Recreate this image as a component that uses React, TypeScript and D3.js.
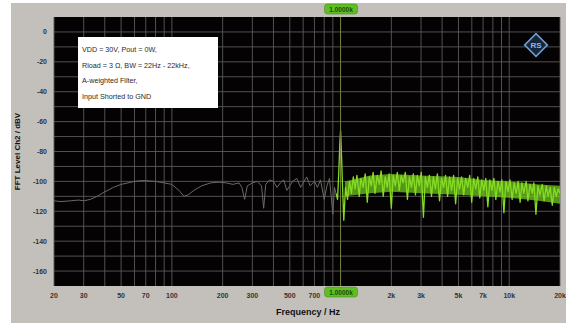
import { useEffect, useRef } from "react";
import { select, scaleLog, scaleLinear, line, area } from "d3";

////
///// layout
const WIDTH = 566;
const HEIGHT = 323;
const PLOT = { left: 54, right: 560, top: 17, bottom: 286 };

////
///// axis data
const X_TICKS = [20, 30, 50, 70, 100, 200, 300, 500, 700, 1000, 2000, 3000, 5000, 7000, 10000, 20000];
const X_TICK_LABELS = ["20", "30", "50", "70", "100", "200", "300", "500", "700", "1k", "2k", "3k", "5k", "7k", "10k", "20k"];
const X_GRID = [
  20, 30, 40, 50, 60, 70, 80, 90,
  100, 200, 300, 400, 500, 600, 700, 800, 900,
  1000, 2000, 3000, 4000, 5000, 6000, 7000, 8000, 9000,
  10000, 20000,
];
const Y_TICKS = [0, -20, -40, -60, -80, -100, -120, -140, -160];
const Y_GRID = [0, -10, -20, -30, -40, -50, -60, -70, -80, -90, -100, -110, -120, -130, -140, -150, -160];

const LEGEND_LINES = [
  "VDD = 30V, Pout = 0W,",
  "Rload = 3 Ω, BW = 22Hz - 22kHz,",
  "A-weighted Filter,",
  "Input Shorted to GND",
];

const CURSOR_FREQ = 1000;
const CURSOR_LABEL = "1.0000k";

////
///// trace data (Hz, dBV)
const GRAY_FREQ = [
  20, 22, 25, 28, 30, 33, 36, 40, 45, 50, 55, 60, 65, 70, 80, 90, 100, 110, 118, 125,
  135, 150, 170, 190, 210, 230, 250, 260, 270, 280, 300, 320, 340, 350, 360, 380, 400,
  420, 440, 460, 480, 500, 520, 550, 580, 600, 630, 660, 700, 730, 760, 800, 830, 860,
  900, 920, 940,
];
const GRAY_LEVEL = [
  -113, -113.5, -113, -112.5, -113, -112, -110, -107, -104, -102, -101, -100, -99.5, -99.5,
  -100, -101, -102, -106, -110, -109, -106, -103, -101, -100.5, -101, -102, -101, -104, -112,
  -103, -101, -100, -103, -118, -102, -99, -100, -104, -101, -99, -106, -103, -100, -98, -104,
  -101, -97, -103, -100, -104, -99, -112, -103, -98, -122, -104, -108,
];

const GREEN_FREQ = [
  940, 960, 975, 990, 1000, 1010, 1025, 1045, 1070,
  1100, 1130, 1160, 1190, 1220, 1250, 1290, 1320, 1360, 1400, 1440, 1480, 1520, 1560,
  1600, 1650, 1700, 1740, 1790, 1840, 1890, 1940, 2000, 2050, 2110, 2170, 2230, 2290,
  2350, 2420, 2490, 2560, 2630, 2700, 2780, 2850, 2930, 3010, 3100, 3180, 3270, 3360,
  3460, 3550, 3650, 3750, 3860, 3970, 4080, 4190, 4310, 4430, 4550, 4680, 4810, 4940,
  5080, 5220, 5370, 5520, 5670, 5830, 5990, 6160, 6330, 6510, 6690, 6870, 7070, 7260,
  7470, 7680, 7890, 8110, 8330, 8570, 8810, 9050, 9300, 9560, 9830, 10100, 10400, 10700,
  11000, 11300, 11600, 11900, 12200, 12600, 12900, 13300, 13700, 14000, 14400, 14800,
  15200, 15700, 16100, 16600, 17000, 17500, 18000, 18500, 19000, 19500, 20000,
];
const GREEN_LEVEL = [
  -108, -112, -95, -75, -66, -78, -100, -126, -104,
  -112, -100, -108, -97, -105, -96, -110, -98, -104, -95, -114, -97, -103, -94,
  -108, -96, -102, -93, -110, -97, -104, -95, -118, -96, -103, -94, -106, -96,
  -101, -94, -112, -97, -104, -95, -109, -96, -103, -94, -124, -97, -104, -96,
  -110, -97, -105, -95, -113, -98, -104, -96, -110, -97, -106, -96, -115, -98,
  -105, -97, -109, -98, -104, -96, -114, -98, -105, -97, -111, -99, -106, -98,
  -117, -99, -106, -98, -112, -100, -107, -99, -121, -100, -107, -99, -112, -101,
  -108, -100, -114, -101, -108, -100, -113, -102, -108, -101, -122, -103,
  -109, -102, -113, -103, -110, -104, -116, -104, -110, -105, -108,
];

// dense noise band under the green trace
const BAND_FREQ = [1060, 1500, 2000, 3000, 5000, 7000, 10000, 15000, 20000];
const BAND_TOP = [-100, -96, -95, -96, -97, -99, -100, -102, -103];
const BAND_BOTTOM = [-110, -108, -107, -108, -109, -110, -111, -113, -115];

////
/////
const App = () => {
  const ref = useRef<SVGSVGElement>(null);

  useEffect(() => {
    if (!ref.current) return;
    const svg = select(ref.current);
    svg.selectAll("*").remove();

    const x = scaleLog().domain([20, 20000]).range([PLOT.left, PLOT.right]);
    const y = scaleLinear().domain([10, -170]).range([PLOT.top, PLOT.bottom]);
    //
    // frame
    svg.append("rect").attr("x", 11).attr("y", 3).attr("width", WIDTH - 11).attr("height", HEIGHT - 3).attr("fill", "#c3c0bc");
    svg
      .append("rect")
      .attr("x", PLOT.left)
      .attr("y", PLOT.top)
      .attr("width", PLOT.right - PLOT.left)
      .attr("height", PLOT.bottom - PLOT.top)
      .attr("fill", "#050203");
    //
    // grid
    const grid = svg.append("g").attr("stroke", "#5a5a5a").attr("stroke-width", 0.9);
    grid
      .selectAll("line.v")
      .data(X_GRID)
      .join("line")
      .attr("x1", (d) => x(d))
      .attr("x2", (d) => x(d))
      .attr("y1", PLOT.top)
      .attr("y2", PLOT.bottom);
    grid
      .selectAll("line.h")
      .data(Y_GRID)
      .join("line")
      .attr("x1", PLOT.left)
      .attr("x2", PLOT.right)
      .attr("y1", (d) => y(d))
      .attr("y2", (d) => y(d));
    //
    // axis labels
    const font = "Arial, 'Liberation Sans', sans-serif";
    svg
      .append("g")
      .selectAll("text")
      .data(Y_TICKS)
      .join("text")
      .attr("x", 47)
      .attr("y", (d) => y(d) + 2.5)
      .attr("text-anchor", "end")
      .attr("font-family", font)
      .attr("font-size", 7)
      .attr("font-weight", "bold")
      .attr("fill", "#333")
      .text((d) => `${d}`);
    // the 1k label sits under the cursor readout box, as in the source
    const xLabels = X_TICKS.map((f, i) => ({ f, label: X_TICK_LABELS[i] })).filter((d) => d.f !== CURSOR_FREQ);
    svg
      .append("g")
      .selectAll("text")
      .data(xLabels)
      .join("text")
      .attr("x", (d) => x(d.f))
      .attr("y", 298)
      .attr("text-anchor", "middle")
      .attr("font-family", font)
      .attr("font-size", 7)
      .attr("font-weight", "bold")
      .attr("fill", "#333")
      .text((d) => d.label);
    svg
      .append("text")
      .attr("x", 308)
      .attr("y", 315)
      .attr("text-anchor", "middle")
      .attr("font-family", font)
      .attr("font-size", 9)
      .attr("font-weight", "bold")
      .attr("fill", "#111")
      .text("Frequency / Hz");
    svg
      .append("text")
      .attr("transform", `translate(20, ${(PLOT.top + PLOT.bottom) / 2}) rotate(-90)`)
      .attr("text-anchor", "middle")
      .attr("font-family", font)
      .attr("font-size", 8)
      .attr("font-weight", "bold")
      .attr("fill", "#111")
      .text("FFT Level Ch2 / dBV");
    //
    // traces
    const plot = svg.append("g");
    const band = area<number>()
      .x((d, i) => x(BAND_FREQ[i]))
      .y0((d, i) => y(BAND_BOTTOM[i]))
      .y1((d) => y(d));
    plot.append("path").attr("d", band(BAND_TOP)).attr("fill", "#72c81e").attr("fill-opacity", 0.75);

    const grayLine = line<number>()
      .x((d, i) => x(GRAY_FREQ[i]))
      .y((d) => y(d));
    plot
      .append("path")
      .attr("d", grayLine(GRAY_LEVEL))
      .attr("fill", "none")
      .attr("stroke", "#6a6a64")
      .attr("stroke-width", 1);

    const greenLine = line<number>()
      .x((d, i) => x(GREEN_FREQ[i]))
      .y((d) => y(d));
    plot
      .append("path")
      .attr("d", greenLine(GREEN_LEVEL))
      .attr("fill", "none")
      .attr("stroke", "#86dc24")
      .attr("stroke-width", 1.3)
      .attr("stroke-linejoin", "round");
    //
    // cursor at 1k
    const cx = x(CURSOR_FREQ);
    svg
      .append("line")
      .attr("x1", cx)
      .attr("x2", cx)
      .attr("y1", PLOT.top)
      .attr("y2", PLOT.bottom)
      .attr("stroke", "#6f7d3a")
      .attr("stroke-width", 1);
    [9, 292].forEach((cy) => {
      const g = svg.append("g");
      g.append("rect")
        .attr("x", cx - 16)
        .attr("y", cy - 5)
        .attr("width", 33)
        .attr("height", 10)
        .attr("rx", 3)
        .attr("fill", "#5fbf22")
        .attr("stroke", "#3f8f18")
        .attr("stroke-width", 0.6);
      g.append("text")
        .attr("x", cx + 0.5)
        .attr("y", cy + 2.5)
        .attr("text-anchor", "middle")
        .attr("font-family", font)
        .attr("font-size", 6.5)
        .attr("font-weight", "bold")
        .attr("fill", "#1d4a0c")
        .text(CURSOR_LABEL);
    });
    //
    // legend box
    const legend = svg.append("g");
    legend
      .append("rect")
      .attr("x", 78)
      .attr("y", 37)
      .attr("width", 140)
      .attr("height", 71)
      .attr("fill", "#ffffff");
    legend
      .selectAll("text")
      .data(LEGEND_LINES)
      .join("text")
      .attr("x", 82)
      .attr("y", (d, i) => 52 + i * 15.7)
      .attr("font-family", font)
      .attr("font-size", 7.2)
      .attr("fill", "#2a2a2a")
      .text((d) => d);
    //
    // logo
    const logo = svg.append("g").attr("transform", "translate(536, 45)");
    logo
      .append("rect")
      .attr("x", -8)
      .attr("y", -8)
      .attr("width", 16)
      .attr("height", 16)
      .attr("transform", "rotate(45)")
      .attr("fill", "#15253a")
      .attr("stroke", "#6f9fd0")
      .attr("stroke-width", 1.6);
    logo
      .append("text")
      .attr("y", 3)
      .attr("text-anchor", "middle")
      .attr("font-family", font)
      .attr("font-size", 8)
      .attr("font-weight", "bold")
      .attr("fill", "#8cb8e8")
      .text("RS");
  }, []);

  return (
    <svg
      ref={ref}
      width={WIDTH}
      height={HEIGHT}
      style={{ position: "absolute", left: 0, top: 0, background: "#ffffff" }}
    />
  );
};

export default App;
